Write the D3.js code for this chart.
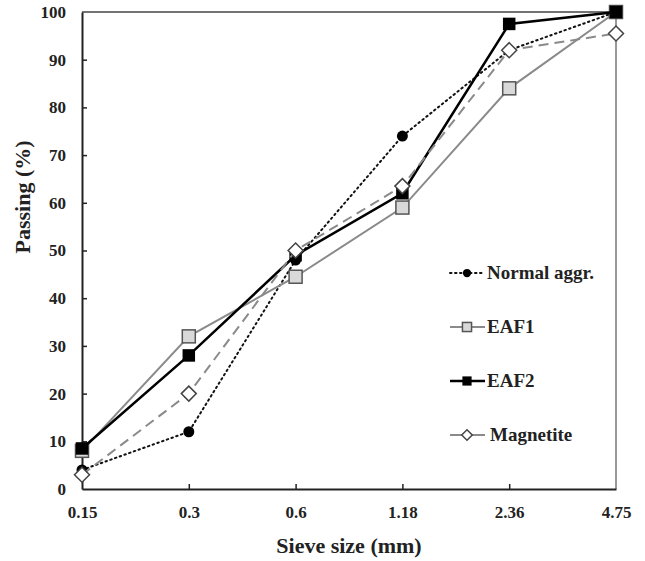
<!DOCTYPE html>
<html>
<head>
<meta charset="utf-8">
<script src="https://cdn.jsdelivr.net/npm/d3@7"></script>
<style>
  body { margin: 0; background: #fff; }
  svg text { font-family: "Liberation Serif", "Times New Roman", serif; font-weight: bold; }
</style>
</head>
<body>
<div class="chart"></div>
<script>
var width = 645;
var height = 561;

// sieve sizes (mm) and passing (%)
var sieves = ["0.15", "0.3", "0.6", "1.18", "2.36", "4.75"];
var normalAggr = [4, 12, 48, 74, 92, 100];
var eaf1 = [8, 32, 44.5, 59, 84, 100];
var eaf2 = [8.5, 28, 49, 62, 97.5, 100];
var magnetite = [3, 20, 50, 63.5, 92, 95.5];
var yTicks = [0, 10, 20, 30, 40, 50, 60, 70, 80, 90, 100];

var series = [
    {name: "Normal aggr.", values: normalAggr, line: "#111", lw: 2, dash: "1.5,3.5", marker: "circle", fill: "#000", stroke: "#000"},
    {name: "EAF1", values: eaf1, line: "#8a8a8a", lw: 2, dash: null, marker: "square", fill: "#d9d9d9", stroke: "#555", size: 13},
    {name: "EAF2", values: eaf2, line: "#000", lw: 2.5, dash: null, marker: "square", fill: "#000", stroke: "#000", size: 11},
    {name: "Magnetite", values: magnetite, line: "#8a8a8a", lw: 2, dash: "10,6", marker: "diamond", fill: "#fff", stroke: "#444"}
];

var margin = {left: 82, right: 29, top: 12, bottom: 72};

var svg = d3.select(".chart")
    .append("svg")
    .attr("width", width)
    .attr("height", height);

var x = d3.scalePoint()
    .domain(sieves)
    .range([margin.left, width - margin.right]);

var y = d3.scaleLinear()
    .domain([0, 100])
    .range([height - margin.bottom, margin.top]);

// frame
svg.append("line").attr("x1", x.range()[0]).attr("x2", x.range()[1])
    .attr("y1", y(100)).attr("y2", y(100)).attr("stroke", "#444").attr("stroke-width", 1.5);
svg.append("line").attr("x1", x.range()[1]).attr("x2", x.range()[1])
    .attr("y1", y(100)).attr("y2", y(0)).attr("stroke", "#777").attr("stroke-width", 1.5);

// axes with inward ticks
var xAxis = svg.append("g")
    .attr("transform", "translate(0," + y(0) + ")")
    .call(d3.axisBottom(x).tickSizeInner(-5).tickSizeOuter(0).tickPadding(17));
var yAxis = svg.append("g")
    .attr("transform", "translate(" + x.range()[0] + ",0)")
    .call(d3.axisLeft(y).tickValues(yTicks).tickSizeInner(-5).tickSizeOuter(0).tickPadding(16));

[xAxis, yAxis].forEach(function(ax){
    ax.select(".domain").attr("stroke", "#222").attr("stroke-width", 2);
    ax.selectAll(".tick line").attr("stroke", "#222").attr("stroke-width", 1.5);
    ax.selectAll(".tick text").attr("font-size", "17px").attr("fill", "#222")
        .attr("font-family", "Liberation Serif").attr("font-weight", "bold");
});
xAxis.selectAll(".tick").filter(function(d){ return d === sieves[0] || d === sieves[sieves.length-1]; })
    .select("line").remove();
yAxis.selectAll(".tick").filter(function(d){ return d === 0 || d === 100; })
    .select("line").remove();

// axis titles
svg.append("text")
    .attr("x", (x.range()[0] + x.range()[1]) / 2)
    .attr("y", 553)
    .attr("text-anchor", "middle")
    .attr("font-size", "22px")
    .attr("fill", "#222")
    .text("Sieve size (mm)");

svg.append("text")
    .attr("transform", "translate(30,197) rotate(-90)")
    .attr("text-anchor", "middle")
    .attr("font-size", "22px")
    .attr("fill", "#222")
    .text("Passing (%)");

function drawMarker(g, s, cx, cy, scale) {
    scale = scale || 1;
    if (s.marker === "circle") {
        g.append("circle").attr("cx", cx).attr("cy", cy).attr("r", 5.5 * scale)
            .attr("fill", s.fill);
    } else if (s.marker === "square") {
        var sz = s.size * scale;
        g.append("rect").attr("x", cx - sz / 2).attr("y", cy - sz / 2)
            .attr("width", sz).attr("height", sz)
            .attr("fill", s.fill).attr("stroke", s.stroke).attr("stroke-width", 1.5);
    } else {
        var r = 7.5 * scale;
        g.append("path")
            .attr("d", "M" + cx + "," + (cy - r) + "L" + (cx + r) + "," + cy + "L" + cx + "," + (cy + r) + "L" + (cx - r) + "," + cy + "Z")
            .attr("fill", s.fill).attr("stroke", s.stroke).attr("stroke-width", 1.5);
    }
}

var line = d3.line()
    .x(function(d, i){ return x(sieves[i]); })
    .y(function(d){ return y(d); });

series.forEach(function(s){
    var g = svg.append("g");
    g.append("path")
        .datum(s.values)
        .attr("d", line)
        .attr("fill", "none")
        .attr("stroke", s.line)
        .attr("stroke-width", s.lw)
        .attr("stroke-linecap", s.dash && s.marker === "circle" ? "round" : "butt")
        .attr("stroke-dasharray", s.dash);
    s.values.forEach(function(v, i){
        drawMarker(g, s, x(sieves[i]), y(v));
    });
});

// legend
var legend = svg.append("g");
series.forEach(function(s, i){
    var ly = 273 + i * 54;
    legend.append("line")
        .attr("x1", 450).attr("x2", 485)
        .attr("y1", ly).attr("y2", ly)
        .attr("stroke", s.line)
        .attr("stroke-width", s.lw)
        .attr("stroke-linecap", s.dash && s.marker === "circle" ? "round" : "butt")
        .attr("stroke-dasharray", s.marker === "circle" ? "1.5,3.5" : null);
    drawMarker(legend, s, 467, ly, s.marker === "circle" ? 0.75 : 0.7);
    legend.append("text")
        .attr("x", s.marker === "diamond" ? 490 : 487)
        .attr("y", ly + 6)
        .attr("font-size", "19px")
        .attr("fill", "#222")
        .text(s.name);
});
</script>
</body>
</html>
